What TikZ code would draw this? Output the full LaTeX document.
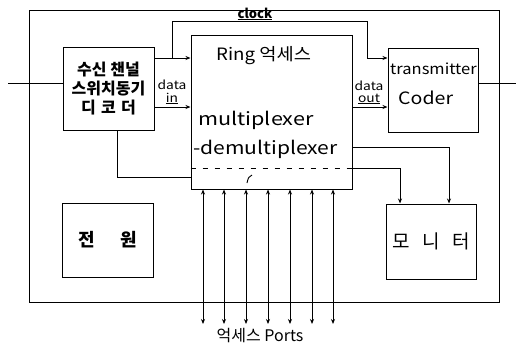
\documentclass[tikz,border=0pt]{standalone}
\usepackage{fontspec}
\setmainfont{Noto Sans CJK KR}
\usetikzlibrary{arrows.meta}
\begin{document}
\begin{tikzpicture}[x=1pt,y=-1pt,
  box/.style={draw,line width=1pt,rectangle,inner sep=0pt},
  wire/.style={line width=0.9pt},
  arr/.style={wire,-{Stealth[length=5pt,width=4pt]}},
  darr/.style={wire,{Stealth[length=5pt,width=4pt]}-{Stealth[length=5pt,width=4pt]}},
  ko/.style={font=\fontsize{16}{17}\selectfont\bfseries},
  lat/.style={font=\fontsize{18}{20}\selectfont},
  small/.style={font=\fontsize{12}{12}\selectfont,inner sep=0pt,anchor=base,xscale=1.15}]
\useasboundingbox (0,0) rectangle (516,346);
% outer frame
\node[box,minimum width=470pt,minimum height=292pt] (outer) at (264,156) {};
% boxes
\node[box,minimum width=91pt,minimum height=83pt,align=center,ko] (recv) at (108.5,88.5)
  {수신 챈널\\[2pt]스위치동기\\[2pt]디\,\,코\,\,더};
\node[box,minimum width=161pt,minimum height=154pt] (ring) at (271.5,112) {};
\node[box,minimum width=90pt,minimum height=84pt] (tx) at (433,90) {};
\node[box,minimum width=91pt,minimum height=74pt,font=\fontsize{18}{20}\selectfont\bfseries] (power) at (107.5,240) {전\quad\, 원};
\node[box,minimum width=90pt,minimum height=75pt,font=\fontsize{19}{20}\selectfont] (mon) at (431,241.5) {모\;\, 니\;\, 터};
% ring texts
\node[font=\fontsize{17}{20}\selectfont,anchor=base west,inner sep=0pt,xscale=1.1] (ringt) at (216,60) {Ring 억세스};
\node[lat,anchor=base west,inner sep=0pt,xscale=1.2] (mux) at (198,125) {multiplexer};
\node[lat,anchor=base west,inner sep=0pt,xscale=1.17] (demux) at (193,154) {-demultiplexer};
\draw[wire,dashed,dash pattern=on 5pt off 7pt] (ring.west |- 0,168) coordinate (dl) -- (ring.east |- 0,168) coordinate (dr);
\draw[wire] (247,183) .. controls (248,178) and (249,176) .. (252,175);
% transmitter texts
\node[font=\fontsize{15}{17}\selectfont,anchor=base west,inner sep=0pt,xscale=1.1] (txt1) at (390,74) {transmitter};
\node[font=\fontsize{17}{19}\selectfont,anchor=base west,inner sep=0pt,xscale=1.15] (txt2) at (398,104) {Coder};
% input / output lines
\coordinate (inL) at (8,83);
\coordinate (outR) at (516,83);
\draw[wire] (inL) -- (recv.west |- inL);
\draw[wire] (tx.east |- outR) -- (outR);
% receiver to ring
\draw[arr] (recv.east |- 0,58) -- (ring.west |- 0,58);
\draw[arr] (recv.east |- 0,107) -- (ring.west |- 0,107);
\node[small] (din1) at (172,89) {data};
\node[small] (din2) at (172,102) {\underline{in}};
% clock
\coordinate (c1) at (172,58);
\coordinate (c2) at (172,21);
\coordinate (c3) at (367,21);
\coordinate (c4) at (367,58);
\draw[wire] (c1) -- (c2) -- (c3) -- (c4);
\draw[arr] (c4) -- (tx.west |- c4);
\node[font=\fontsize{13}{13}\selectfont\bfseries,inner sep=0pt] (clk) at (255,14) {\underline{clock}};
% data out
\draw[arr] (ring.east |- 0,107) -- (tx.west |- 0,107);
\node[small] (dout1) at (369,90) {data};
\node[small] (dout2) at (369,102) {\underline{out}};
% receiver to ring bottom
\coordinate (r1) at (117,177);
\draw[wire] (recv.south -| r1) -- (r1) -- (ring.west |- r1);
% ring to monitor
\coordinate (m1) at (449,147);
\coordinate (m2) at (400,168);
\draw[arr] (ring.east |- m1) -- (m1) -- (mon.north -| m1);
\draw[arr] (ring.east |- m2) -- (m2) -- (mon.north -| m2);
% ports
\foreach \px [count=\i] in {203,224,246,268,290,312,333}{
  \coordinate (p\i) at (\px,324);
  \draw[darr] (ring.south -| p\i) -- (p\i);
}
\node[font=\fontsize{16}{18}\selectfont,anchor=base] (ports) at (260,341) {억세스 Ports};
\end{tikzpicture}
\end{document}
